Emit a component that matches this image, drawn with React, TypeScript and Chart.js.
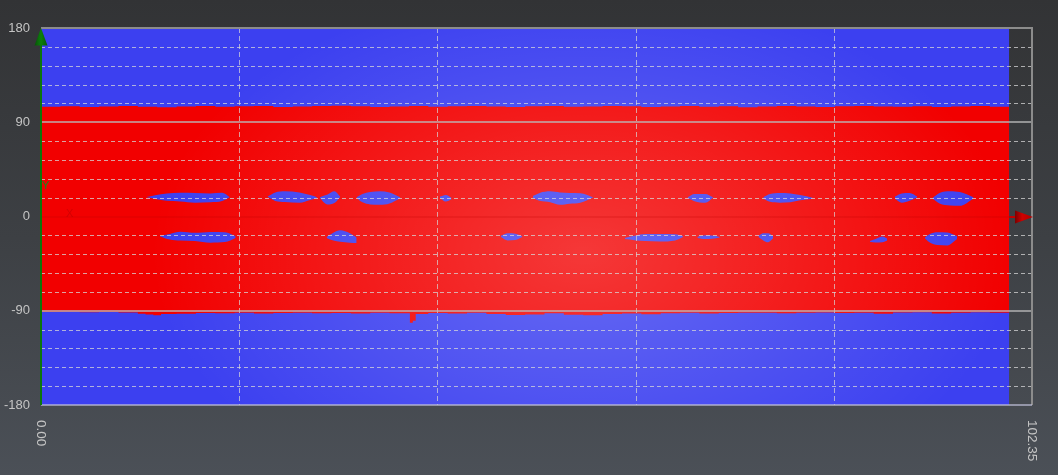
import React, { useEffect, useRef } from 'react';
import { Chart, registerables } from 'chart.js';

Chart.register(...registerables);

// ---------- data ----------
const X_MAX = 102.35;
const DATA_END = 100;
const X_TICKS = [0, 20.47, 40.94, 61.41, 81.88, 102.35];
const X_LABELS = ['0.00', '', '', '', '', '102.35'];
const Y_TICKS = [-180, -162, -144, -126, -108, -90, -72, -54, -36, -18, 0, 18, 36, 54, 72, 90, 108, 126, 144, 162, 180];
const Y_LABELED = [-180, -90, 0, 90, 180];

const BG_X = [0, 100];
const BG_TOP = [180, 180];

const BAND_TOP_X = [0, 2, 4, 6, 8, 10, 12, 14, 16, 18, 20, 22, 24, 26, 28, 30, 32, 34, 36, 38, 40, 42, 44, 46, 48, 50, 52, 54, 56, 58, 60, 62, 64, 66, 68, 70, 72, 74, 76, 78, 80, 82, 84, 86, 88, 90, 92, 94, 96, 98, 100];
const BAND_TOP_Y = [104.8, 105.2, 104.6, 105.0, 105.6, 104.8, 104.4, 105.0, 105.4, 104.8, 105.2, 105.6, 104.6, 105.0, 105.4, 105.8, 105.2, 104.6, 105.0, 105.4, 104.8, 105.2, 105.6, 105.0, 104.6, 105.2, 105.4, 104.8, 105.0, 105.6, 105.2, 104.6, 105.0, 105.4, 104.8, 105.2, 104.4, 105.0, 105.4, 105.0, 104.6, 105.2, 105.6, 105.0, 104.8, 105.2, 104.6, 105.0, 105.4, 104.8, 105.0];

const BAND_BOTTOM_X = [0, 2, 4, 6, 8, 10, 10.8, 11.6, 12.4, 14, 16, 18, 20, 22, 24, 26, 28, 30, 32, 34, 36, 38.1, 38.4, 38.7, 40, 42, 44, 46, 48, 50, 52, 54, 56, 58, 60, 62, 64, 66, 68, 70, 72, 74, 76, 78, 80, 82, 84, 86, 88, 90, 92, 94, 96, 98, 100];
const BAND_BOTTOM_Y = [-91.2, -91.0, -91.4, -91.2, -91.6, -92.8, -93.6, -94.4, -93.2, -92.8, -92.2, -92.4, -92.0, -92.6, -92.2, -92.0, -92.4, -92.2, -92.6, -92.0, -92.4, -101.5, -99.5, -93.0, -92.2, -92.6, -92.0, -93.0, -94.0, -93.6, -92.4, -93.8, -94.2, -93.0, -92.6, -93.4, -92.4, -92.0, -92.6, -92.2, -92.0, -91.8, -92.4, -92.0, -91.6, -92.2, -91.8, -92.8, -91.6, -91.4, -92.6, -91.8, -91.4, -91.8, -91.6];

// blobs: [x, top, bottom]
const BLOB_U1 = [[10.9, 18.6, 18.6], [11.8, 20.4, 16.6], [13.0, 22.0, 15.0], [14.4, 22.6, 14.4], [15.9, 22.4, 13.2], [17.5, 22.0, 13.6], [18.7, 22.6, 14.8], [19.5, 18.5, 18.5]];
const BLOB_U2 = [[23.4, 19.0, 19.0], [24.2, 23.0, 14.8], [25.2, 24.2, 13.8], [26.7, 23.0, 13.2], [27.8, 20.5, 15.8], [28.5, 18.3, 18.0]];
const BLOB_U3 = [[28.8, 18.5, 17.5], [29.6, 21.0, 11.5], [30.3, 24.0, 13.0], [30.9, 19.0, 18.5]];
const BLOB_U4 = [[32.6, 18.5, 17.5], [33.2, 21.5, 13.5], [34.0, 23.5, 11.5], [35.0, 24.2, 11.2], [36.0, 23.0, 12.5], [37.1, 18.5, 17.5]];
const BLOB_U5 = [[41.2, 19.0, 17.5], [41.8, 20.6, 14.4], [42.4, 18.0, 16.5]];
const BLOB_U6 = [[50.8, 19.5, 18.0], [51.5, 22.5, 15.0], [52.6, 24.0, 13.6], [53.6, 23.0, 11.2], [54.6, 22.5, 12.2], [55.7, 22.2, 13.2], [57.0, 18.5, 18.0]];
const BLOB_U7 = [[66.8, 18.5, 18.0], [67.5, 21.4, 14.6], [68.6, 21.4, 13.2], [69.4, 18.5, 18.0]];
const BLOB_U8 = [[74.6, 18.5, 17.0], [75.3, 21.5, 14.0], [76.3, 22.4, 13.2], [77.4, 22.0, 13.6], [78.4, 20.5, 15.5], [79.7, 18.0, 17.0]];
const BLOB_U9 = [[88.2, 19.0, 17.0], [88.9, 22.0, 13.2], [89.7, 22.4, 15.0], [90.5, 19.0, 18.5]];
const BLOB_U10 = [[92.1, 18.0, 17.0], [92.8, 22.5, 12.5], [93.9, 24.2, 10.6], [94.9, 23.4, 10.2], [96.3, 18.5, 17.0]];

const BLOB_L1 = [[12.3, -18.6, -19.0], [13.3, -16.6, -22.0], [14.4, -14.6, -23.0], [15.9, -15.6, -23.4], [17.5, -14.8, -25.0], [19.0, -15.0, -24.4], [20.1, -18.6, -20.5]];
const BLOB_L2 = [[29.5, -19.5, -20.5], [30.2, -15.5, -23.0], [30.9, -13.2, -24.0], [31.9, -16.0, -25.0], [32.6, -20.0, -25.2]];
const BLOB_L3 = [[47.5, -18.5, -19.5], [48.2, -16.0, -22.8], [49.0, -16.4, -22.4], [49.7, -18.6, -19.5]];
const BLOB_L4 = [[60.3, -20.5, -21.5], [61.3, -18.4, -22.6], [62.4, -16.8, -23.4], [63.9, -16.8, -23.8], [65.5, -17.0, -22.8], [66.3, -18.6, -19.6]];
const BLOB_L5 = [[67.8, -19.5, -20.5], [68.6, -18.0, -21.6], [69.3, -18.2, -21.2], [70.1, -19.5, -20.0]];
const BLOB_L6 = [[74.1, -18.5, -19.5], [74.6, -16.0, -22.8], [75.1, -16.0, -24.6], [75.6, -18.6, -21.0]];
const BLOB_L7 = [[85.6, -23.5, -24.0], [86.2, -21.4, -24.8], [86.9, -19.0, -24.6], [87.4, -21.0, -23.0]];
const BLOB_L8 = [[91.3, -20.0, -21.0], [91.8, -16.8, -24.8], [92.6, -15.0, -27.2], [93.6, -15.2, -27.6], [94.6, -18.6, -21.5]];

const BLOBS = [BLOB_U1, BLOB_U2, BLOB_U3, BLOB_U4, BLOB_U5, BLOB_U6, BLOB_U7, BLOB_U8, BLOB_U9, BLOB_U10,
  BLOB_L1, BLOB_L2, BLOB_L3, BLOB_L4, BLOB_L5, BLOB_L6, BLOB_L7, BLOB_L8];

// ---------- style ----------
const BLUE = '#3c40f0';
const RED = '#f20000';
const LABEL_COLOR = '#c4c4c4';
const FONT = "'Liberation Sans', Arial, sans-serif";

const zip = (xs: number[], ys: number[]) => {
  const n = Math.min(xs.length, ys.length);
  const out: { x: number; y: number }[] = [];
  for (let i = 0; i < n; i++) out.push({ x: xs[i], y: ys[i] });
  return out;
};

const overlayPlugin = {
  id: 'overlay',
  afterDatasetsDraw(chart: any) {
    const { ctx, chartArea: a } = chart;
    const xs = chart.scales.x;
    const ys = chart.scales.y;
    const xEnd = xs.getPixelForValue(DATA_END);
    const y0 = Math.round(ys.getPixelForValue(0));

    // lighting
    ctx.save();
    ctx.beginPath();
    ctx.rect(a.left, a.top, xEnd - a.left, a.bottom - a.top);
    ctx.clip();
    ctx.translate(xs.getPixelForValue(56), ys.getPixelForValue(-35));
    ctx.scale(1.6, 1);
    const g = ctx.createRadialGradient(0, 0, 0, 0, 0, 270);
    g.addColorStop(0, 'rgba(255,255,255,0.22)');
    g.addColorStop(0.45, 'rgba(255,255,255,0.12)');
    g.addColorStop(1, 'rgba(255,255,255,0)');
    ctx.fillStyle = g;
    ctx.fillRect(-900, -900, 1800, 1800);
    ctx.restore();

    // dashed horizontal grid
    ctx.save();
    ctx.lineWidth = 1;
    ctx.setLineDash([4, 3]);
    ctx.strokeStyle = 'rgba(215,215,215,0.75)';
    Y_TICKS.forEach((v) => {
      if (v % 90 === 0) return;
      const py = Math.round(ys.getPixelForValue(v)) + 0.5;
      ctx.beginPath();
      ctx.moveTo(a.left, py);
      ctx.lineTo(a.right, py);
      ctx.stroke();
    });
    // dashed vertical grid
    ctx.setLineDash([5, 3]);
    ctx.strokeStyle = 'rgba(215,215,215,0.7)';
    X_TICKS.forEach((v, i) => {
      if (i === 0 || i === X_TICKS.length - 1) return;
      const px = Math.round(xs.getPixelForValue(v)) + 0.5;
      ctx.beginPath();
      ctx.moveTo(px, a.top);
      ctx.lineTo(px, a.bottom);
      ctx.stroke();
    });
    ctx.restore();

    // solid lines at +-90
    ctx.save();
    ctx.lineWidth = 2;
    ctx.strokeStyle = 'rgba(185,185,185,0.7)';
    [90, -90].forEach((v) => {
      const py = Math.round(ys.getPixelForValue(v));
      ctx.beginPath();
      ctx.moveTo(a.left, py);
      ctx.lineTo(a.right, py);
      ctx.stroke();
    });
    // borders
    ctx.strokeStyle = '#8c8c8c';
    ctx.beginPath();
    ctx.moveTo(a.left, a.top);
    ctx.lineTo(a.right, a.top);
    ctx.lineTo(a.right, a.bottom);
    ctx.stroke();
    ctx.strokeStyle = 'rgba(190,190,215,0.65)';
    ctx.beginPath();
    ctx.moveTo(a.left, a.bottom);
    ctx.lineTo(a.right, a.bottom);
    ctx.stroke();

    // zero (x axis) line
    ctx.strokeStyle = 'rgba(190,0,0,0.18)';
    ctx.beginPath();
    ctx.moveTo(a.left, y0);
    ctx.lineTo(xEnd, y0);
    ctx.stroke();
    ctx.strokeStyle = '#c00000';
    ctx.beginPath();
    ctx.moveTo(xEnd, y0);
    ctx.lineTo(a.right - 16, y0);
    ctx.stroke();
    // red arrow
    const rg = ctx.createLinearGradient(a.right - 17, 0, a.right + 1, 0);
    rg.addColorStop(0, '#7a0000');
    rg.addColorStop(0.4, '#d00000');
    rg.addColorStop(1, '#b00000');
    ctx.fillStyle = rg;
    ctx.beginPath();
    ctx.moveTo(a.right - 17, y0 - 6.5);
    ctx.lineTo(a.right + 1, y0);
    ctx.lineTo(a.right - 17, y0 + 6.5);
    ctx.closePath();
    ctx.fill();

    // green y axis
    ctx.strokeStyle = '#0c760c';
    ctx.lineWidth = 2;
    ctx.beginPath();
    ctx.moveTo(a.left, a.bottom);
    ctx.lineTo(a.left, a.top + 12);
    ctx.stroke();
    const gg = ctx.createLinearGradient(a.left - 7, 0, a.left + 7, 0);
    gg.addColorStop(0, '#064f06');
    gg.addColorStop(0.5, '#0d800d');
    gg.addColorStop(1, '#065806');
    ctx.fillStyle = gg;
    ctx.beginPath();
    ctx.moveTo(a.left, a.top);
    ctx.lineTo(a.left + 6.5, a.top + 17.5);
    ctx.lineTo(a.left - 6.5, a.top + 17.5);
    ctx.closePath();
    ctx.fill();

    // axis names
    ctx.font = `11px ${FONT}`;
    ctx.textBaseline = 'top';
    ctx.textAlign = 'left';
    ctx.fillStyle = '#1a8a1a';
    ctx.fillText('Y', a.left + 1, ys.getPixelForValue(34));
    ctx.fillStyle = 'rgba(160,0,0,0.35)';
    ctx.fillText('X', a.left + 25, y0 - 9);

    // x labels rotated clockwise
    ctx.fillStyle = LABEL_COLOR;
    ctx.font = `13.5px ${FONT}`;
    ctx.textBaseline = 'middle';
    ctx.textAlign = 'left';
    X_TICKS.forEach((v, i) => {
      const lab = X_LABELS[i];
      if (!lab) return;
      ctx.save();
      ctx.translate(xs.getPixelForValue(v), a.bottom + 15);
      ctx.rotate(Math.PI / 2);
      ctx.fillText(lab, 0, 0);
      ctx.restore();
    });
    ctx.restore();
  },
};

export default function App() {
  const ref = useRef<HTMLCanvasElement | null>(null);

  useEffect(() => {
    if (!ref.current) return;
    const base = { pointRadius: 0, borderWidth: 0, showLine: true };
    const datasets: any[] = [];
    datasets.push({
      ...base,
      data: zip(BG_X, BG_TOP),
      fill: { value: -180 },
      backgroundColor: BLUE,
      borderColor: BLUE,
      order: 3,
    });
    // upper and lower halves of the red band overlap around 0 so no seam shows
    datasets.push({
      ...base,
      data: zip(BAND_TOP_X, BAND_TOP_Y),
      fill: { value: -5 },
      stepped: true,
      backgroundColor: RED,
      borderColor: RED,
      order: 2,
    });
    datasets.push({
      ...base,
      data: zip(BAND_BOTTOM_X, BAND_BOTTOM_Y),
      fill: { value: 5 },
      stepped: true,
      backgroundColor: RED,
      borderColor: RED,
      order: 2,
    });
    BLOBS.forEach((b) => {
      datasets.push({
        ...base,
        data: b.map((p) => ({ x: p[0], y: p[1] })),
        fill: '+1',
        cubicInterpolationMode: 'monotone',
        backgroundColor: BLUE,
        borderColor: BLUE,
        order: 1,
      });
      datasets.push({
        ...base,
        data: b.map((p) => ({ x: p[0], y: p[2] })),
        fill: false,
        cubicInterpolationMode: 'monotone',
        backgroundColor: BLUE,
        borderColor: BLUE,
        order: 1,
      });
    });

    const chart = new Chart(ref.current, {
      type: 'line',
      data: { datasets },
      options: {
        responsive: false,
        animation: false,
        devicePixelRatio: 1,
        events: [],
        layout: { padding: { top: 28, right: 26, left: 0, bottom: 0 } },
        plugins: { legend: { display: false }, tooltip: { enabled: false } },
        scales: {
          x: {
            type: 'linear',
            min: 0,
            max: X_MAX,
            grid: { display: false, drawTicks: false },
            border: { display: false },
            ticks: { display: false },
            afterBuildTicks: (s: any) => {
              s.ticks = X_TICKS.map((v) => ({ value: v }));
            },
            afterFit: (s: any) => {
              s.height = 70;
            },
          },
          y: {
            type: 'linear',
            min: -180,
            max: 180,
            grid: { display: false, drawTicks: false, tickLength: 0 },
            border: { display: false },
            afterBuildTicks: (s: any) => {
              s.ticks = Y_TICKS.map((v) => ({ value: v }));
            },
            ticks: {
              autoSkip: false,
              padding: 11,
              color: LABEL_COLOR,
              font: { family: FONT, size: 13 },
              callback: (v: any) => (Y_LABELED.includes(Number(v)) ? String(v) : ''),
            },
            afterFit: (s: any) => {
              s.width = 41;
            },
          },
        },
      } as any,
      plugins: [overlayPlugin],
    });
    return () => chart.destroy();
  }, []);

  return (
    <div
      style={{
        position: 'fixed',
        left: 0,
        top: 0,
        width: 1058,
        height: 475,
        background: 'linear-gradient(to bottom, #323335 0%, #3d4044 50%, #4b5057 100%)',
      }}
    >
      <canvas ref={ref} width={1058} height={475} style={{ display: 'block', width: 1058, height: 475 }} />
    </div>
  );
}
